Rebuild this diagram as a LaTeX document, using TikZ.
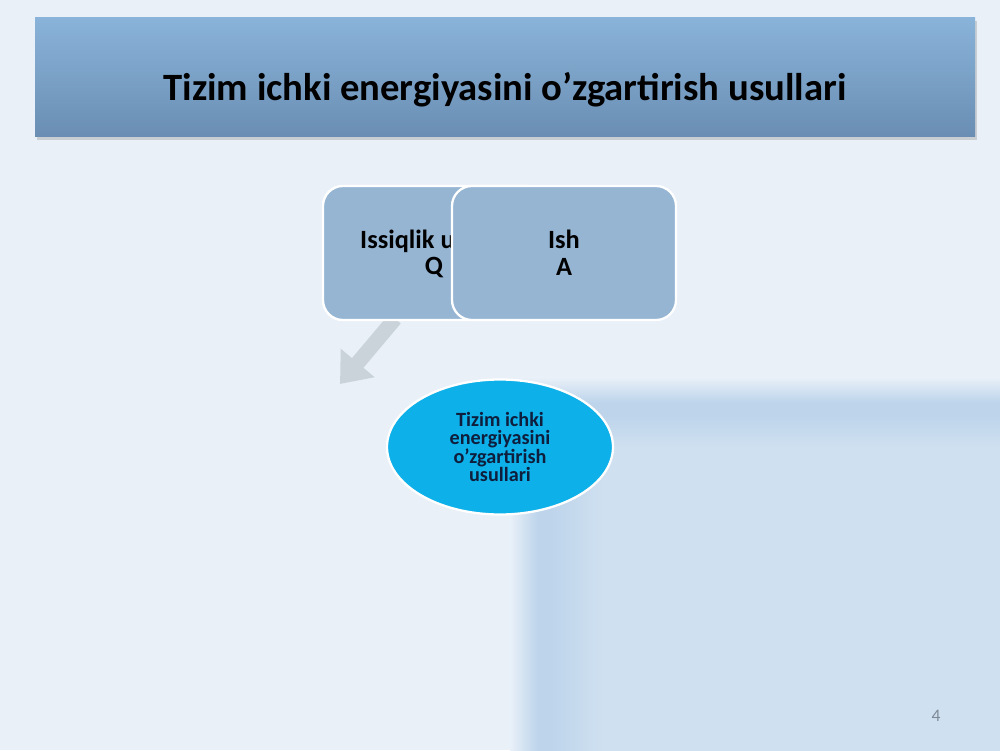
\documentclass[tikz,border=0pt]{standalone}
\usepackage{fontspec}
\setmainfont{Carlito}
\usepackage{xcolor}
\usepackage{tikz}
\usetikzlibrary{positioning, arrows.meta, shapes.geometric, shadows}

\definecolor{slidebg}{HTML}{E9F0F8}
\definecolor{paneldark}{HTML}{BDD4EB}
\definecolor{panellight}{HTML}{CFE0F0}
\definecolor{bartop}{HTML}{8AB3D9}
\definecolor{barbottom}{HTML}{6A8EB3}
\definecolor{boxblue}{HTML}{95B5D3}
\definecolor{ovalblue}{HTML}{0DB0E9}
\definecolor{ovaltext}{HTML}{0E1E3C}
\definecolor{arrowgray}{HTML}{CAD2DA}
\definecolor{pagegray}{HTML}{7F8A96}
\newcommand\tightlines{\lineskiplimit=-20pt\relax}

\begin{document}
\begin{tikzpicture}[
    every node/.style={
        align=center,
        font=\bfseries
    },
    titlebar/.style={
        minimum width=18.8cm,
        minimum height=2.38cm,
        top color=bartop,
        bottom color=barbottom,
        drop shadow={shadow xshift=0.03cm, shadow yshift=-0.07cm, opacity=0.3},
        font=\fontsize{22}{26}\selectfont\bfseries
    },
    methodbox/.style={
        draw=white,
        line width=1.3pt,
        rounded corners=0.4cm,
        fill=boxblue,
        minimum width=4.48cm,
        minimum height=2.68cm,
        font=\fontsize{15}{15.5}\selectfont\bfseries
    },
    goal/.style={
        ellipse,
        draw=white,
        line width=1.3pt,
        fill=ovalblue,
        text=ovaltext,
        minimum width=4.52cm,
        minimum height=2.7cm,
        inner sep=0pt,
        font=\fontsize{11.5}{10.6}\selectfont\bfseries\tightlines
    },
    blockarrow/.style={-{Triangle[length=0.55cm,width=0.85cm]}, line width=0.3cm, arrowgray}
]
\useasboundingbox (0,0) rectangle (20,15);

% slide background
\fill[slidebg] (0,0) rectangle (20,15);
\fill[paneldark] (10.3,-0.2) rectangle (20.2,7.3);
\shade[top color=slidebg, bottom color=paneldark] (10.3,7.45) rectangle (20.2,6.95);
\shade[left color=slidebg, right color=paneldark] (10.2,-0.2) rectangle (10.75,7.05);
\fill[panellight] (12,-0.2) rectangle (20.2,6.1);
\shade[left color=paneldark, right color=panellight] (11.0,-0.2) rectangle (12.05,6.1);
\shade[top color=paneldark, bottom color=panellight] (11.0,6.7) rectangle (20.2,6.05);

% title
\node[titlebar] (title) at (10.1,13.45) {};
\node (titletext) at (10.1,13.2) {\fontsize{22}{26}\selectfont Tizim ichki energiyasini o’zgartirish usullari};

% two ways
\coordinate (tip) at (6.8,7.32);
\node[methodbox] (heatback) at (8.7,9.94) {};
\draw[blockarrow] ([xshift=-0.8cm,yshift=0.05cm]heatback.south) -- (tip);
\node[methodbox] (heat) at (8.7,9.94) {};
\node[font=\fontsize{15}{15.5}\selectfont\bfseries, anchor=base west] (heatname) at (7.08,10.02) {Issiqlik u};
\node[font=\fontsize{15}{15.5}\selectfont\bfseries, anchor=base] (heatsym) at (8.68,9.5) {Q};
\node[methodbox] (work) at (11.28,9.94) {Ish\\A};

% result
\node[goal] (inner) at (10.0,6.06) {Tizim ichki\\energiyasini\\o’zgartirish\\usullari};

% page number
\node[font=\fontsize{10}{12}\selectfont, text=pagegray] (page) at (18.72,0.68) {4};

\end{tikzpicture}
\end{document}
